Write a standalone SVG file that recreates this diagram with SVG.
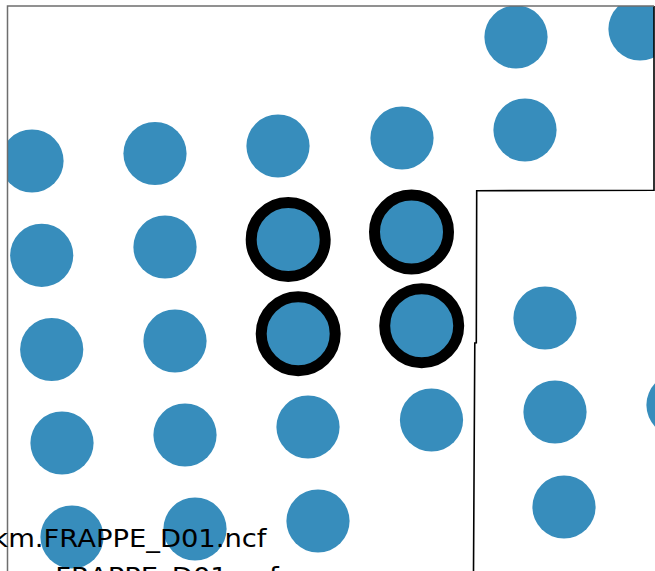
<svg xmlns="http://www.w3.org/2000/svg" width="655" height="571" viewBox="0 0 655 571">
<style>
.pt{fill:#378dbc}
.sel{fill:#378dbc;stroke:#000;stroke-width:11}
.frame{fill:none;stroke:#6e6e6e;stroke-width:1.5}
.bound{fill:none;stroke:#000;stroke-width:1.6}
.lbl{font-family:"DejaVu Sans",sans-serif;font-size:24px;fill:#000}
</style>
<defs>
<clipPath id="ax"><rect x="7.5" y="6" width="646.5" height="566"/></clipPath>
<clipPath id="ax2"><rect x="7.5" y="190" width="648" height="382"/></clipPath>
</defs>
<rect width="655" height="571" fill="#fff"/>
<g id="points" clip-path="url(#ax)">
<g id="n1"><circle class="pt" cx="516" cy="37" r="31.6"/></g>
<g id="n2"><circle class="pt" cx="640" cy="29" r="31.6"/></g>
<g id="n3"><circle class="pt" cx="32" cy="161" r="31.6"/></g>
<g id="n4"><circle class="pt" cx="155" cy="153.5" r="31.6"/></g>
<g id="n5"><circle class="pt" cx="278" cy="146" r="31.6"/></g>
<g id="n6"><circle class="pt" cx="402" cy="138" r="31.6"/></g>
<g id="n7"><circle class="pt" cx="525" cy="130" r="31.6"/></g>
<g id="n8"><circle class="pt" cx="41.7" cy="255.3" r="31.6"/></g>
<g id="n9"><circle class="pt" cx="165" cy="247" r="31.6"/></g>
<g id="n10"><circle class="sel" cx="288.2" cy="239.5" r="37"/></g>
<g id="n11"><circle class="sel" cx="411.5" cy="232" r="37"/></g>
<g id="n12"><circle class="pt" cx="51.7" cy="349.5" r="31.6"/></g>
<g id="n13"><circle class="pt" cx="175" cy="341" r="31.6"/></g>
<g id="n14"><circle class="sel" cx="298.2" cy="333.8" r="37"/></g>
<g id="n15"><circle class="sel" cx="421.7" cy="325.8" r="37"/></g>
<g id="n16"><circle class="pt" cx="545" cy="318" r="31.6"/></g>
<g id="n17"><circle class="pt" cx="62" cy="443" r="31.6"/></g>
<g id="n18"><circle class="pt" cx="185" cy="435" r="31.6"/></g>
<g id="n19"><circle class="pt" cx="308" cy="427" r="31.6"/></g>
<g id="n20"><circle class="pt" cx="431.5" cy="420" r="31.6"/></g>
<g id="n21"><circle class="pt" cx="555" cy="412" r="31.6"/></g>
<g id="n23"><circle class="pt" cx="72" cy="537" r="31.6"/></g>
<g id="n24"><circle class="pt" cx="195" cy="529" r="31.6"/></g>
<g id="n25"><circle class="pt" cx="318" cy="521" r="31.6"/></g>
<g id="n26"><circle class="pt" cx="564" cy="507" r="31.6"/></g>
</g>
<g id="n22" clip-path="url(#ax2)"><circle class="pt" cx="678" cy="405" r="31.6"/></g>
<g id="connectors">
<path class="bound" d="M654,6 L654,190.3 L476.7,190.7 L476.3,342.8 L474.8,343 L473.5,571"/>
<path class="frame" d="M7.5,571 L7.5,6 L654,6"/>
</g>
<g id="labels">
<text class="lbl" x="-7.7" y="547.3" textLength="274.2" lengthAdjust="spacingAndGlyphs">km.FRAPPE_D01.ncf</text>
<text class="lbl" x="55.3" y="585.3" textLength="223.3" lengthAdjust="spacingAndGlyphs">FRAPPE_D01.ncf</text>
</g>
</svg>
